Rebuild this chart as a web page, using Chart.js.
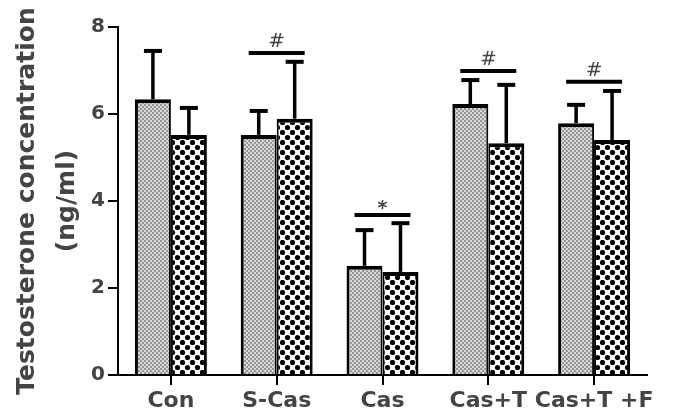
<!DOCTYPE html>
<html>
<head>
<meta charset="utf-8">
<script src="https://cdn.jsdelivr.net/npm/chart.js@4.4.1/dist/chart.umd.min.js"></script>
<style>
  body { margin: 0; background: #fff; }
  #wrap { width: 690px; height: 412px; }
</style>
</head>
<body>
<div id="wrap"><canvas id="testoChart"></canvas></div>
<script>
const groups = ['Con', 'S-Cas', 'Cas', 'Cas+T', 'Cas+T +F'];
const seriesA = [6.34, 5.52, 2.51, 6.23, 5.79];
const seriesASd = [1.11, 0.55, 0.82, 0.55, 0.42];
const seriesB = [5.52, 5.89, 2.37, 5.33, 5.40];
const seriesBSd = [0.62, 1.31, 1.12, 1.34, 1.13];
const sigLevel = [null, 7.40, 3.68, 6.99, 6.74];
const sigMark = ['', '#', '*', '#', '#'];
const yTicks = [0, 2, 4, 6, 8];

function makePattern(w, h, draw) {
  const c = document.createElement('canvas');
  c.width = w; c.height = h;
  const g = c.getContext('2d');
  draw(g);
  return g.createPattern(c, 'repeat');
}

// fine grey stipple for the first series
const grayStipple = makePattern(4, 4, g => {
  g.fillStyle = '#d8d8d8'; g.fillRect(0, 0, 4, 4);
  g.fillStyle = '#969696'; g.fillRect(0, 0, 2, 2); g.fillRect(2, 2, 2, 2);
});

// big black dots on white for the second series
const blackDots = makePattern(10, 10, g => {
  g.fillStyle = '#fff'; g.fillRect(0, 0, 10, 10);
  g.fillStyle = '#000';
  [[2.5, 2.5], [7.5, 7.5]].forEach(([x, y]) => {
    g.beginPath(); g.arc(x, y, 2.6, 0, Math.PI * 2); g.fill();
  });
});

// error bars (upper only) and significance brackets
const errorBars = {
  id: 'errorBars',
  afterDatasetsDraw(chart) {
    const ctx = chart.ctx;
    const y = chart.scales.y;
    ctx.save();
    ctx.strokeStyle = '#000';
    [seriesASd, seriesBSd].forEach((sd, di) => {
      const vals = chart.data.datasets[di].data;
      chart.getDatasetMeta(di).data.forEach((bar, i) => {
        const top = y.getPixelForValue(vals[i] + sd[i]);
        ctx.lineWidth = 3.5;
        ctx.beginPath(); ctx.moveTo(bar.x, bar.y); ctx.lineTo(bar.x, top); ctx.stroke();
        ctx.lineWidth = 4;
        ctx.beginPath(); ctx.moveTo(bar.x - 9, top); ctx.lineTo(bar.x + 9, top); ctx.stroke();
      });
    });

    const m0 = chart.getDatasetMeta(0).data;
    const m1 = chart.getDatasetMeta(1).data;
    ctx.fillStyle = '#444';
    ctx.textAlign = 'center';
    ctx.textBaseline = 'alphabetic';
    sigLevel.forEach((v, i) => {
      if (v == null) return;
      const ly = y.getPixelForValue(v);
      ctx.lineWidth = 4;
      ctx.beginPath(); ctx.moveTo(m0[i].x - 10, ly); ctx.lineTo(m1[i].x + 10, ly); ctx.stroke();
      const cx = (m0[i].x + m1[i].x) / 2;
      if (sigMark[i] === '*') {
        ctx.font = 'bold 19px "DejaVu Sans"';
        ctx.fillText('*', cx, ly - 1);
      } else {
        ctx.font = 'italic 20px "DejaVu Sans"';
        ctx.fillText(sigMark[i], cx, ly - 6);
      }
    });
    ctx.restore();
  }
};

new Chart(document.getElementById('testoChart'), {
  type: 'bar',
  data: {
    labels: groups,
    datasets: [
      {
        data: seriesA,
        backgroundColor: grayStipple,
        borderColor: '#000',
        borderWidth: { top: 4, left: 3, right: 2, bottom: 0 },
        barPercentage: 1,
        categoryPercentage: 0.68
      },
      {
        data: seriesB,
        backgroundColor: blackDots,
        borderColor: '#000',
        borderWidth: { top: 4, left: 2, right: 3, bottom: 0 },
        barPercentage: 1,
        categoryPercentage: 0.68
      }
    ]
  },
  options: {
    responsive: true,
    maintainAspectRatio: false,
    animation: false,
    layout: { padding: { top: 27, right: 43, left: 0, bottom: 0 } },
    plugins: {
      legend: { display: false },
      tooltip: { enabled: false }
    },
    scales: {
      x: {
        afterFit(s) { s.height = 37; },
        grid: { drawOnChartArea: false, offset: false, color: '#000', lineWidth: 2, tickLength: 10 },
        border: { color: '#000', width: 2 },
        ticks: { color: '#444', font: { family: 'DejaVu Sans', size: 22, weight: 'bold' }, padding: 3, maxRotation: 0, autoSkip: false }
      },
      y: {
        min: 0,
        max: 8,
        afterFit(s) { s.width = 118; },
        afterBuildTicks(s) { s.ticks = yTicks.map(v => ({ value: v })); },
        grid: { drawOnChartArea: false, color: '#000', lineWidth: 2, tickLength: 10 },
        border: { color: '#000', width: 2 },
        ticks: { color: '#444', font: { family: 'DejaVu Sans', size: 20, weight: 'bold' }, padding: 3 },
        title: {
          display: true,
          text: ['Testosterone concentration', '(ng/ml)'],
          color: '#444',
          font: { family: 'DejaVu Sans', size: 25, weight: 'bold', lineHeight: 1.6 },
          padding: { top: 7, bottom: 0 }
        }
      }
    }
  },
  plugins: [errorBars]
});
</script>
</body>
</html>
